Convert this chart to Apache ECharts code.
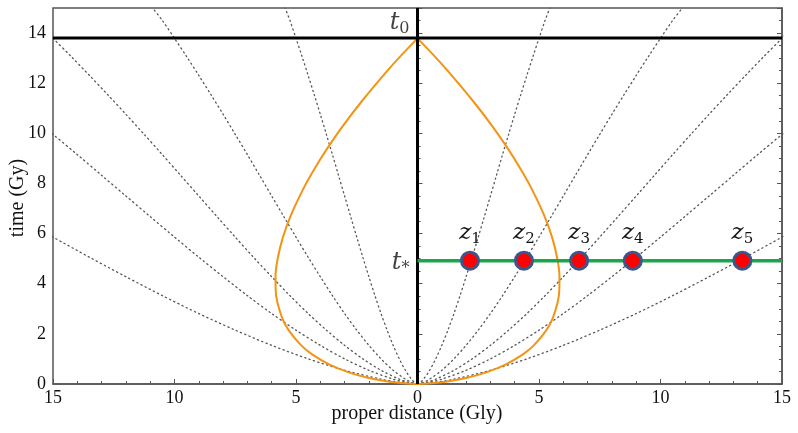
<!DOCTYPE html>
<html>
<head>
<meta charset="utf-8">
<script src="https://cdn.jsdelivr.net/npm/echarts@6/dist/echarts.min.js"></script>
<style>
html,body{margin:0;padding:0;background:#fff;}
#chart{width:798px;height:433px;}
</style>
</head>
<body>
<div id="chart"></div>
<script>
// ---- data ----
const X_MIN = -15, X_MAX = 15, Y_MIN = 0, Y_MAX = 15;
// time (Gy) and relative scale factor along comoving worldlines
const TIME_GY = [0, 0.068, 0.193, 0.547, 1.003, 1.542, 2.149, 2.81, 3.525, 4.28, 5.057, 5.86, 6.677, 7.50, 8.326, 9.15, 9.96, 10.76, 11.543, 12.31, 13.062, 13.79, 14.506, 15.0];
const SCALE_FACTOR = [0, 0.025, 0.05, 0.1, 0.15, 0.2, 0.25, 0.3, 0.35, 0.4, 0.45, 0.5, 0.55, 0.6, 0.65, 0.7, 0.75, 0.8, 0.85, 0.9, 0.95, 1.0, 1.05, 1.09];
// comoving distances (Gly) of the dotted galaxy worldlines
const COMOVING_GLY = [5, 10, 15, 20, 30];
// past light cone: time (Gy) and proper distance (Gly)
const CONE_T = [0, 0.017, 0.048, 0.100, 0.180, 0.270, 0.474, 0.764, 1.174, 1.542, 2.149, 2.618, 3.283, 3.726, 4.28, 4.969, 5.86, 6.768, 7.914, 8.60, 9.38, 10.27, 11.28, 12.45, 13.10, 13.79];
const CONE_D = [0, 0.415, 0.781, 1.219, 1.704, 2.133, 2.860, 3.595, 4.323, 4.785, 5.306, 5.562, 5.772, 5.834, 5.842, 5.761, 5.537, 5.195, 4.631, 4.230, 3.726, 3.091, 2.291, 1.281, 0.679, 0];
const T_NOW = 13.8;
const T_STAR = 4.92;
const Z_DOT_X = [2.16, 4.38, 6.65, 8.86, 13.37];
const Z_NAMES = ['1', '2', '3', '4', '5'];
const X_NAME = 'proper distance (Gly)';
const Y_NAME = 'time (Gy)';

// ---- build series ----
const series = [];
const dotted = {type: [1.2, 3.4], color: '#555', width: 1.3, cap: 'round'};
COMOVING_GLY.forEach(function (chi) {
  [-1, 1].forEach(function (side) {
    series.push({
      type: 'line', silent: true, symbol: 'none', smooth: 0.3, z: 1,
      data: TIME_GY.map(function (t, i) { return [side * chi * SCALE_FACTOR[i], t]; }),
      lineStyle: dotted
    });
  });
});
[-1, 1].forEach(function (side) {
  series.push({
    type: 'line', silent: true, symbol: 'none', smooth: 0.35, z: 2,
    data: CONE_T.map(function (t, i) { return [side * CONE_D[i], t]; }),
    lineStyle: {color: '#f39414', width: 2}
  });
});
series.push({
  type: 'line', silent: true, symbol: 'none', z: 3,
  data: [[X_MIN, T_NOW], [X_MAX, T_NOW]],
  lineStyle: {color: '#000', width: 3}
});
series.push({
  type: 'line', silent: true, symbol: 'none', z: 3,
  data: [[0, Y_MIN], [0, Y_MAX]],
  lineStyle: {color: '#000', width: 3}
});
series.push({
  type: 'line', silent: true, symbol: 'none', z: 4,
  data: [[0, T_STAR], [X_MAX, T_STAR]],
  lineStyle: {color: '#1aa64b', width: 3.5}
});
series.push({
  type: 'scatter', silent: true, z: 5,
  symbolSize: 17,
  data: Z_DOT_X.map(function (x, i) { return {value: [x, T_STAR], name: Z_NAMES[i]}; }),
  itemStyle: {color: '#ff0000', borderColor: '#3d568a', borderWidth: 3, opacity: 1},
  label: {
    show: true, position: 'top', distance: 4,
    formatter: function (p) { return '{z|z}{s|' + p.name + '}'; },
    rich: {
      z: {fontFamily: 'DejaVu Serif', fontStyle: 'italic', fontSize: 23, color: '#111'},
      s: {fontFamily: 'DejaVu Serif', fontSize: 15, color: '#111', padding: [12, 0, 0, 0]}
    }
  }
});
// t0 and t* labels attached to data points
series.push({
  type: 'scatter', silent: true, z: 5, symbolSize: 0,
  data: [
    {value: [0, T_NOW], name: '0'},
    {value: [0, T_STAR], name: '*'}
  ],
  label: {
    show: true, position: 'left', distance: 8,
    formatter: function (p) { return '{t|t}{s|' + p.name + '}'; },
    rich: {
      t: {fontFamily: 'DejaVu Serif', fontStyle: 'italic', fontSize: 24, color: '#111'},
      s: {fontFamily: 'DejaVu Serif', fontSize: 16, color: '#111', padding: [12, 0, 0, 0]}
    }
  },
  labelLayout: function (p) {
    return p.dataIndex === 0 ? {dy: -15} : {dy: 2};
  }
});

const tickFont = {fontFamily: 'Liberation Serif', fontSize: 18, color: '#111'};
const nameFont = {fontFamily: 'Liberation Serif', fontSize: 20, fill: '#111'};
const chart = echarts.init(document.getElementById('chart'), null, {renderer: 'canvas'});
chart.setOption({
  animation: false,
  backgroundColor: '#fff',
  grid: {left: 53, right: 16, top: 8, bottom: 49, show: true, borderColor: '#555', borderWidth: 1.5, containLabel: false, outerBoundsMode: 'none'},
  xAxis: {
    type: 'value', min: X_MIN, max: X_MAX, interval: 5,
    axisLine: {show: true, lineStyle: {color: '#555', width: 1.5}},
    axisTick: {show: true, inside: true, length: 5, lineStyle: {color: '#555'}},
    minorTick: {show: true, splitNumber: 5, length: 3, lineStyle: {color: '#555'}},
    splitLine: {show: false},
    axisLabel: Object.assign({margin: 5, formatter: function (v) { return String(Math.abs(v)); }}, tickFont)
  },
  yAxis: [{
    type: 'value', min: Y_MIN, max: Y_MAX, interval: 2,
    axisLine: {show: true, lineStyle: {color: '#555', width: 1.5}},
    axisTick: {show: true, inside: true, length: 5, lineStyle: {color: '#555'}},
    minorTick: {show: true, splitNumber: 4, length: 3, lineStyle: {color: '#555'}},
    splitLine: {show: false},
    axisLabel: Object.assign({margin: 7, showMaxLabel: false}, tickFont)
  }, {
    type: 'value', min: Y_MIN, max: Y_MAX, interval: 2, position: 'right',
    axisLine: {show: true, lineStyle: {color: '#555', width: 1.5}},
    axisTick: {show: true, inside: true, length: 5, lineStyle: {color: '#555'}},
    minorTick: {show: true, splitNumber: 4, length: 3, lineStyle: {color: '#555'}},
    splitLine: {show: false},
    axisLabel: {show: false}
  }],
  graphic: [
    {type: 'text', x: 417, y: 414, style: Object.assign({text: X_NAME, align: 'center', verticalAlign: 'middle'}, nameFont)},
    {type: 'text', x: 18, y: 198, rotation: Math.PI / 2, style: Object.assign({text: Y_NAME, align: 'center', verticalAlign: 'middle'}, nameFont)}
  ],
  series: series
});
</script>
</body>
</html>
